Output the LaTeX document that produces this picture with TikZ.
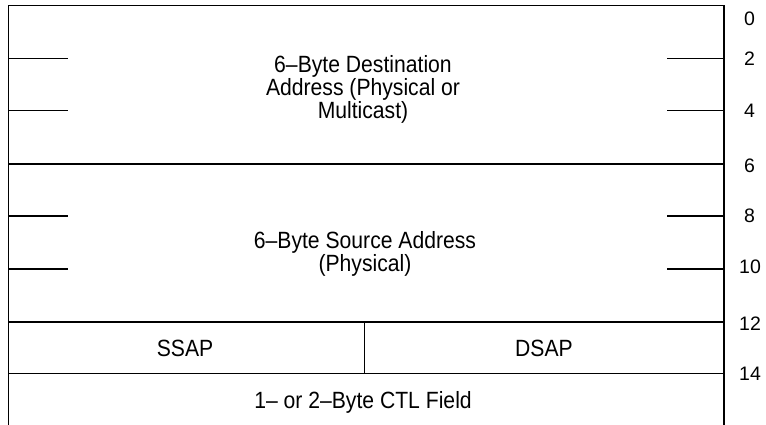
\documentclass[tikz,border=0pt]{standalone}
\usepackage{fontspec}
\usepackage{graphicx}
\setmainfont{Liberation Sans}
\newcommand{\narrowtext}[1]{\scalebox{0.9}[1]{\fontsize{23.5}{19.8}\selectfont\begin{tabular}[t]{@{}c@{}}#1\end{tabular}}}
\begin{document}
\begin{tikzpicture}[x=1pt,y=-1pt,
  frame/.style={line width=1.6pt,black},
  tick/.style={line width=1.3pt,black},
  lbl/.style={anchor=base,inner sep=0pt},
  num/.style={font=\fontsize{19.5}{22}\selectfont,anchor=west,inner sep=0pt}]
\useasboundingbox (0,0) rectangle (766,425);
% frame
\coordinate (tl) at (8.3,5.7);
\coordinate (tr) at (724,5.7);
\coordinate (bl) at (8.3,425);
\coordinate (br) at (724,425);
\draw[frame] (bl) -- (tl) -- (tr) -- (br);
% full-width lines
\draw[tick] (8.3,164) -- (724,164);
\draw[frame] (8.3,322) -- (724,322);
\draw[frame] (8.3,373.3) -- (724,373.3);
\draw[tick] (364.3,322) -- (364.3,373.3);
% short ticks
\foreach \y in {58.3,110.7,216,269} {
  \draw[tick] (8.3,\y) -- (67.7,\y);
  \draw[tick] (667,\y) -- (724,\y);
}
% labels
\node[lbl] (dst) at (363,72.3) {\narrowtext{6–Byte Destination\\Address (Physical or\\Multicast)}};
\node[lbl] (src) at (365,248.3) {\narrowtext{6–Byte Source Address\\(Physical)}};
\node[lbl] (ssap) at (185,356.7) {\narrowtext{SSAP}};
\node[lbl] (dsap) at (544,356.7) {\narrowtext{DSAP}};
\node[lbl] (ctl) at (363,408.3) {\narrowtext{1– or 2–Byte CTL Field}};
% numbers
\node[num] (n0) at (744,18.5) {0};
\node[num] (n2) at (744,58.3) {2};
\node[num] (n4) at (744,110.7) {4};
\node[num] (n6) at (744,166) {6};
\node[num] (n8) at (744,216) {8};
\node[num] (n10) at (739,267) {10};
\node[num] (n12) at (739,324) {12};
\node[num] (n14) at (739,373.5) {14};
\end{tikzpicture}
\end{document}
